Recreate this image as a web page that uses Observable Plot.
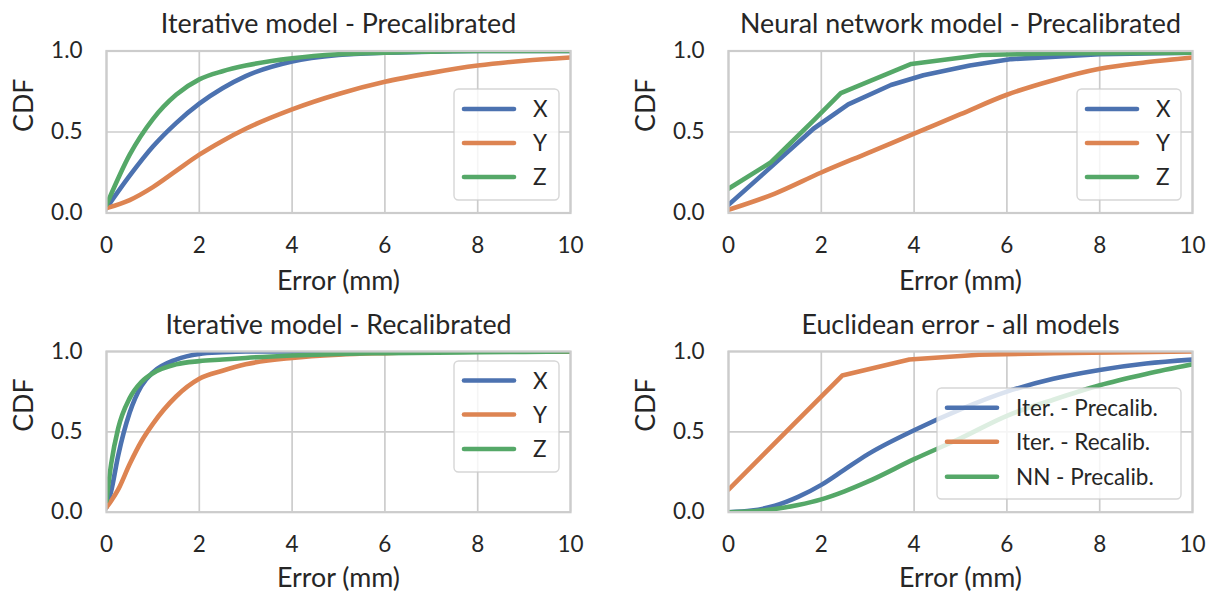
<!DOCTYPE html>
<html><head><meta charset="utf-8">
<script src="https://cdn.jsdelivr.net/npm/d3@7"></script>
<script src="https://cdn.jsdelivr.net/npm/@observablehq/plot@0.6"></script>
<style>
html,body{margin:0;padding:0;background:#fff;}
#root{position:relative;width:1219px;height:593px;overflow:hidden;font-family:Lato,sans-serif;color:#262626;}
.panel{position:absolute;}
.legend{position:absolute;}
</style></head><body><div id="root"></div>
<script>
// ---- tick labels / text ----
const xTicks = [0, 2, 4, 6, 8, 10];
const yTicks = [0, 0.5, 1];
const xLabel = "Error (mm)";
const yLabel = "CDF";
const titles = ["Iterative model - Precalibrated", "Neural network model - Precalibrated",
                "Iterative model - Recalibrated", "Euclidean error - all models"];
const axisNames = ["X", "Y", "Z"];
const euclidNames = ["Iter. - Precalib.", "Iter. - Recalib.", "NN - Precalib."];
const colors = ["#4c72b0", "#dd8452", "#55a868"];

// ---- Iterative model - Precalibrated ----
const itPreErr = [0, 0.5, 1, 1.5, 2, 2.5, 3, 4, 5, 6, 7, 8, 9, 10];
const itPreX = [0.03, 0.23, 0.41, 0.555, 0.675, 0.77, 0.845, 0.935, 0.975, 0.99, 0.996, 1, 1, 1];
const itPreY = [0.03, 0.08, 0.16, 0.26, 0.36, 0.445, 0.52, 0.64, 0.735, 0.81, 0.865, 0.91, 0.94, 0.96];
const itPreZ = [0.05, 0.36, 0.58, 0.73, 0.825, 0.875, 0.91, 0.955, 0.98, 0.99, 0.996, 1, 1, 1];

// ---- Neural network model - Precalibrated (piecewise) ----
const nnErrX = [0, 0.9, 1.83, 2.58, 3.5, 4.2, 5.2, 6.1, 8, 10];
const nnX    = [0.05, 0.28, 0.52, 0.67, 0.79, 0.85, 0.91, 0.95, 0.98, 0.99];
const nnErrY = [0, 1, 2, 3, 4, 5, 6, 7, 8, 9, 10];
const nnY    = [0.02, 0.12, 0.25, 0.37, 0.49, 0.61, 0.73, 0.82, 0.89, 0.93, 0.96];
const nnErrZ = [0, 0.9, 1.83, 2.42, 3.94, 5.45, 7, 10];
const nnZ    = [0.15, 0.31, 0.57, 0.74, 0.92, 0.975, 0.985, 0.99];

// ---- Iterative model - Recalibrated ----
const itRecErr = [0, 0.1, 0.25, 0.5, 0.75, 1, 1.5, 2, 2.5, 3, 4, 5, 6, 8, 10];
const itRecX = [0.03, 0.13, 0.35, 0.62, 0.785, 0.87, 0.95, 0.985, 0.995, 1, 1, 1, 1, 1, 1];
const itRecY = [0.03, 0.07, 0.14, 0.3, 0.44, 0.55, 0.72, 0.83, 0.88, 0.92, 0.96, 0.98, 0.99, 1, 1];
const itRecZ = [0.07, 0.3, 0.52, 0.71, 0.81, 0.865, 0.92, 0.94, 0.95, 0.96, 0.975, 0.985, 0.99, 0.995, 1];

// ---- Euclidean error - all models ----
const euErr = [0, 0.5, 1, 1.5, 2, 2.5, 3, 4, 5, 6, 7, 8, 9, 10];
const euItPre = [0.0, 0.01, 0.04, 0.095, 0.17, 0.265, 0.36, 0.51, 0.64, 0.75, 0.83, 0.885, 0.925, 0.95];
const euNnPre = [0.0, 0.005, 0.02, 0.045, 0.08, 0.13, 0.19, 0.33, 0.46, 0.6, 0.7, 0.79, 0.86, 0.92];
const euRecErr = [0, 1.1, 2.45, 3.9, 5.4, 7, 10];
const euItRec = [0.14, 0.46, 0.85, 0.95, 0.98, 0.99, 1.0];

const root = document.getElementById("root");
const INK = "#262626";

function panel(p) {
  const rows = p.series.flatMap((s, k) => s.x.map((x, i) => ({x, v: s.y[i], k})));
  const marks = [
    Plot.gridX(xTicks, {stroke: "#cccccc", strokeOpacity: 1, strokeWidth: 1.7}),
    Plot.gridY(yTicks, {stroke: "#cccccc", strokeOpacity: 1, strokeWidth: 1.7}),
    ...p.series.map((s, k) => Plot.line(rows.filter(d => d.k === k), {
      x: "x", y: "v", stroke: s.color, strokeWidth: 4.6, curve: s.curve, clip: true
    })),
    Plot.frame({stroke: "#cccccc", strokeWidth: 2.2}),
    Plot.axisX(xTicks, {tickSize: 0, tickPadding: 24, label: null, tickFormat: d => String(d), fontSize: 22.5}),
    Plot.axisY(yTicks, {tickSize: 0, tickPadding: 24, label: null, tickFormat: d => d.toFixed(1), fontSize: 22.5}),
    Plot.text([p.title], {text: d => d, frameAnchor: "top", lineAnchor: "bottom", dy: -18, fontSize: 26.8, fill: INK}),
    Plot.text([xLabel], {text: d => d, frameAnchor: "bottom", lineAnchor: "top", dy: p.labelDy, fontSize: 26.8, fill: INK}),
    Plot.text([yLabel], {text: d => d, frameAnchor: "left", rotate: -90, dx: -82, fontSize: 26.8, fill: INK})
  ];
  const svg = Plot.plot({
    width: p.w, height: p.h,
    marginTop: p.mt, marginRight: p.mr, marginBottom: p.mb, marginLeft: p.ml,
    x: {domain: [0, 10]},
    y: {domain: [0, 1]},
    style: {fontFamily: "Lato, sans-serif", fontSize: "22.5px", color: INK, background: "transparent", overflow: "visible"},
    marks
  });
  const div = document.createElement("div");
  div.className = "panel";
  div.style.left = p.left + "px"; div.style.top = p.top + "px";
  div.appendChild(svg);
  root.appendChild(div);

  // legend overlay
  const L = p.legend;
  const ns = "http://www.w3.org/2000/svg";
  const lg = document.createElementNS(ns, "svg");
  lg.setAttribute("width", L.w + 4); lg.setAttribute("height", L.h + 4);
  lg.setAttribute("class", "legend");
  lg.style.left = (L.left - 2) + "px"; lg.style.top = (L.top - 2) + "px";
  lg.style.position = "absolute";
  const rect = document.createElementNS(ns, "rect");
  rect.setAttribute("x", 2); rect.setAttribute("y", 2);
  rect.setAttribute("width", L.w); rect.setAttribute("height", L.h);
  rect.setAttribute("rx", 4.5);
  rect.setAttribute("fill", "#ffffff"); rect.setAttribute("fill-opacity", 0.8);
  rect.setAttribute("stroke", "#cccccc"); rect.setAttribute("stroke-opacity", 0.8);
  rect.setAttribute("stroke-width", 1.4);
  lg.appendChild(rect);
  p.series.forEach((s, k) => {
    const y = 2 + L.rows[k];
    const ln = document.createElementNS(ns, "line");
    ln.setAttribute("x1", 2 + 10); ln.setAttribute("x2", 2 + 60);
    ln.setAttribute("y1", y); ln.setAttribute("y2", y);
    ln.setAttribute("stroke", s.color); ln.setAttribute("stroke-width", 4.6);
    ln.setAttribute("stroke-linecap", "round");
    lg.appendChild(ln);
    const t = document.createElementNS(ns, "text");
    t.setAttribute("x", 2 + 79); t.setAttribute("y", y);
    t.setAttribute("dy", "0.36em");
    t.setAttribute("fill", INK);
    t.setAttribute("font-family", "Lato, sans-serif");
    t.setAttribute("font-size", "22.5");
    t.textContent = s.name;
    lg.appendChild(t);
  });
  root.appendChild(lg);
}

const mono = "monotone-x";
panel({
  left: 0, top: 0, w: 610, h: 296, mt: 50.5, mr: 40, mb: 83.5, ml: 106, title: titles[0], labelDy: 57.5,
  series: [
    {name: axisNames[0], color: colors[0], x: itPreErr, y: itPreX, curve: mono},
    {name: axisNames[1], color: colors[1], x: itPreErr, y: itPreY, curve: mono},
    {name: axisNames[2], color: colors[2], x: itPreErr, y: itPreZ, curve: mono}
  ],
  legend: {left: 454, top: 89, w: 105, h: 111, rows: [20, 54, 88]}
});
panel({
  left: 610, top: 0, w: 609, h: 296, mt: 50.5, mr: 27, mb: 83.5, ml: 118, title: titles[1], labelDy: 57.5,
  series: [
    {name: axisNames[0], color: colors[0], x: nnErrX, y: nnX, curve: "linear"},
    {name: axisNames[1], color: colors[1], x: nnErrY, y: nnY, curve: mono},
    {name: axisNames[2], color: colors[2], x: nnErrZ, y: nnZ, curve: "linear"}
  ],
  legend: {left: 1077, top: 89, w: 104, h: 111, rows: [20, 54, 88]}
});
panel({
  left: 0, top: 296, w: 610, h: 297, mt: 55, mr: 40, mb: 81.3, ml: 106, title: titles[2], labelDy: 55.5,
  series: [
    {name: axisNames[0], color: colors[0], x: itRecErr, y: itRecX, curve: mono},
    {name: axisNames[1], color: colors[1], x: itRecErr, y: itRecY, curve: mono},
    {name: axisNames[2], color: colors[2], x: itRecErr, y: itRecZ, curve: mono}
  ],
  legend: {left: 454, top: 361, w: 105, h: 111, rows: [19.5, 53.5, 88]}
});
panel({
  left: 610, top: 296, w: 609, h: 297, mt: 55, mr: 27, mb: 81.3, ml: 118, title: titles[3], labelDy: 55.5,
  series: [
    {name: euclidNames[0], color: colors[0], x: euErr, y: euItPre, curve: mono},
    {name: euclidNames[1], color: colors[1], x: euRecErr, y: euItRec, curve: "linear"},
    {name: euclidNames[2], color: colors[2], x: euErr, y: euNnPre, curve: mono}
  ],
  legend: {left: 937, top: 388, w: 244, h: 111, rows: [19.7, 53.7, 88.7]}
});
</script>
</body></html>
